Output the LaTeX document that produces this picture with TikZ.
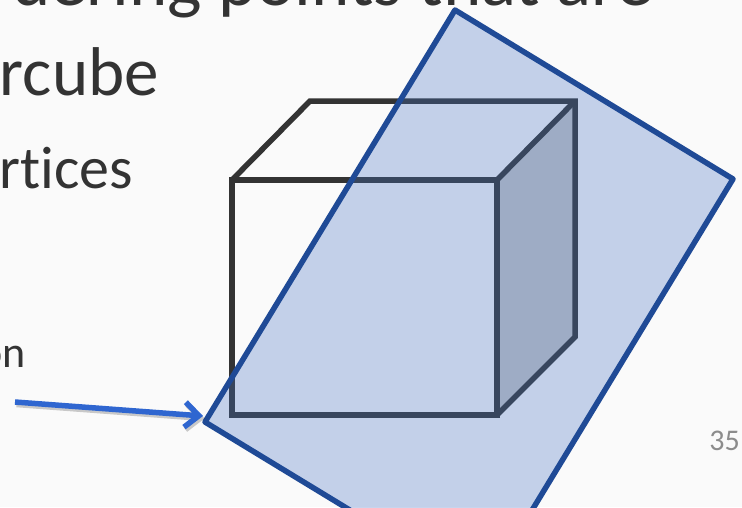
\documentclass[tikz,border=0pt]{standalone}
\usepackage{fontspec}
\setmainfont[RawFeature=-liga]{Carlito}
\usetikzlibrary{arrows.meta}
\definecolor{slidebg}{HTML}{FAFAFA}
\definecolor{slidetext}{HTML}{333333}
\definecolor{planeblue}{HTML}{4472C4}
\definecolor{planeedge}{HTML}{1F4A96}
\definecolor{arrowblue}{HTML}{2F66D0}
\definecolor{sidegray}{HTML}{C6C6C6}
\begin{document}
\begin{tikzpicture}[x=1pt, y=-1pt,
    line join=round,
    slidetxt/.style={text=slidetext, inner sep=0pt, anchor=base east},
    cubeline/.style={draw=slidetext, line width=5.5pt, line join=miter},
    planeline/.style={draw=planeedge, line width=5.5pt},
    pointer/.style={draw=arrowblue, line width=5.5pt, -{Straight Barb[length=14pt, width=25pt, line width=5.5pt]}}]
  \useasboundingbox (0,0) rectangle (742,507);
  \clip (0,0) rectangle (742,507);
  \fill[slidebg] (0,0) rectangle (742,507);
  \node[slidetxt, font=\fontsize{73}{73}\selectfont] (title) at (653,5.5) {ordering points that are};
  \node[slidetxt, font=\fontsize{69}{69}\selectfont] (hyper) at (159,95) {hypercube};
  \node[slidetxt, font=\fontsize{60}{60}\selectfont] (vert) at (133,188) {vertices};
  \node[slidetxt, font=\fontsize{44}{44}\selectfont] (sub) at (26,367) {on};
  \node[slidetxt, text=black!45, font=\fontsize{30}{30}\selectfont] (page) at (740,450) {35};
  % cube
  \fill[sidegray] (497,180) -- (575,101) -- (575,337) -- (497,415) -- cycle;
  \draw[cubeline] (232,180) rectangle (497,415);
  \draw[cubeline] (232,180) -- (310,101) -- (575,101) -- (575,337) -- (497,415);
  \draw[cubeline] (497,180) -- (575,101);
  % plane
  \coordinate (pa) at (455,10);
  \coordinate (pb) at (733,179);
  \coordinate (pc) at (483,591);
  \coordinate (pd) at (205,422);
  \fill[planeblue, opacity=0.3] (pa) -- (pb) -- (pc) -- (pd) -- cycle;
  \draw[planeline] (pa) -- (pb) -- (pc) -- (pd) -- cycle;
  % arrow
  \coordinate (from) at (15,402);
  \coordinate (to) at (203,416);
  \draw[pointer, draw=black, opacity=0.2, transform canvas={shift={(1.5pt,-2.5pt)}}] (from) -- (to);
  \draw[pointer] (from) -- (to);
\end{tikzpicture}
\end{document}
